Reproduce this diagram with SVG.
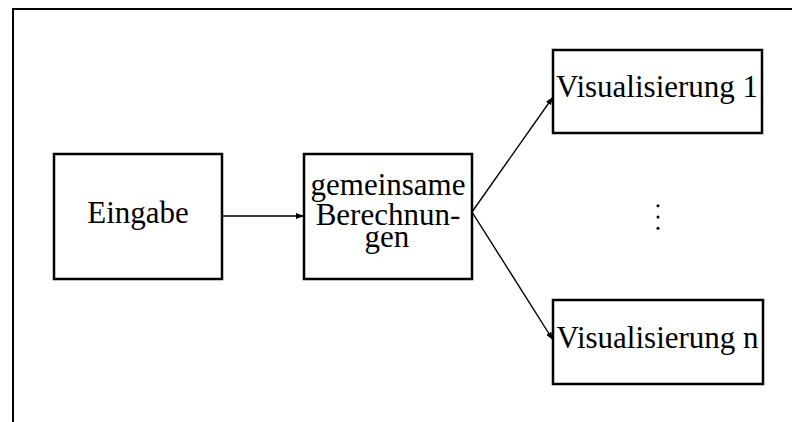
<svg xmlns="http://www.w3.org/2000/svg" width="792" height="422" viewBox="0 0 792 422">
  <defs>
    <marker id="arrow" viewBox="0 0 8 6" refX="8" refY="3" markerWidth="8" markerHeight="6" markerUnits="userSpaceOnUse" orient="auto">
      <path d="M0,0 L8,3 L0,6 Z" fill="#000"/>
    </marker>
  </defs>
  <style>
    .box { fill: #fff; stroke: #000; stroke-width: 2.5; }
    .frame { fill: none; stroke: #000; stroke-width: 2; }
    .lbl { font-family: "Liberation Serif", "Times New Roman", serif; font-size: 31px; fill: #000; text-anchor: middle; }
    .conn { fill: none; stroke: #000; stroke-width: 1.4; marker-end: url(#arrow); }
  </style>
  <rect width="792" height="422" fill="#fff"/>
  <!-- outer frame, open to the right and bottom -->
  <path class="frame" d="M13,423 L13,9 L793,9"/>

  <g id="connectors">
    <line class="conn" x1="222" y1="216" x2="304" y2="216"/>
    <line class="conn" x1="472" y1="212" x2="553" y2="97"/>
    <line class="conn" x1="472" y1="212" x2="553" y2="340"/>
  </g>

  <g id="eingabe">
    <rect class="box" x="54" y="154" width="168" height="125"/>
    <text class="lbl" x="138" y="223">Eingabe</text>
  </g>

  <g id="berechnungen">
    <rect class="box" x="304" y="154" width="168" height="125"/>
    <text class="lbl" x="388" y="195">gemeinsame</text>
    <text class="lbl" x="388" y="225">Berechnun-</text>
    <text class="lbl" x="387" y="247">gen</text>
  </g>

  <g id="visualisierung1">
    <rect class="box" x="553" y="50" width="209" height="83"/>
    <text class="lbl" x="657" y="97">Visualisierung 1</text>
  </g>

  <g id="visualisierungN">
    <rect class="box" x="553" y="300" width="210" height="84"/>
    <text class="lbl" x="657.5" y="348">Visualisierung n</text>
  </g>

  <g id="ellipsis" fill="#000">
    <circle cx="658" cy="205.7" r="1.5"/>
    <circle cx="658" cy="217" r="1.5"/>
    <circle cx="658" cy="228.3" r="1.5"/>
  </g>
</svg>
